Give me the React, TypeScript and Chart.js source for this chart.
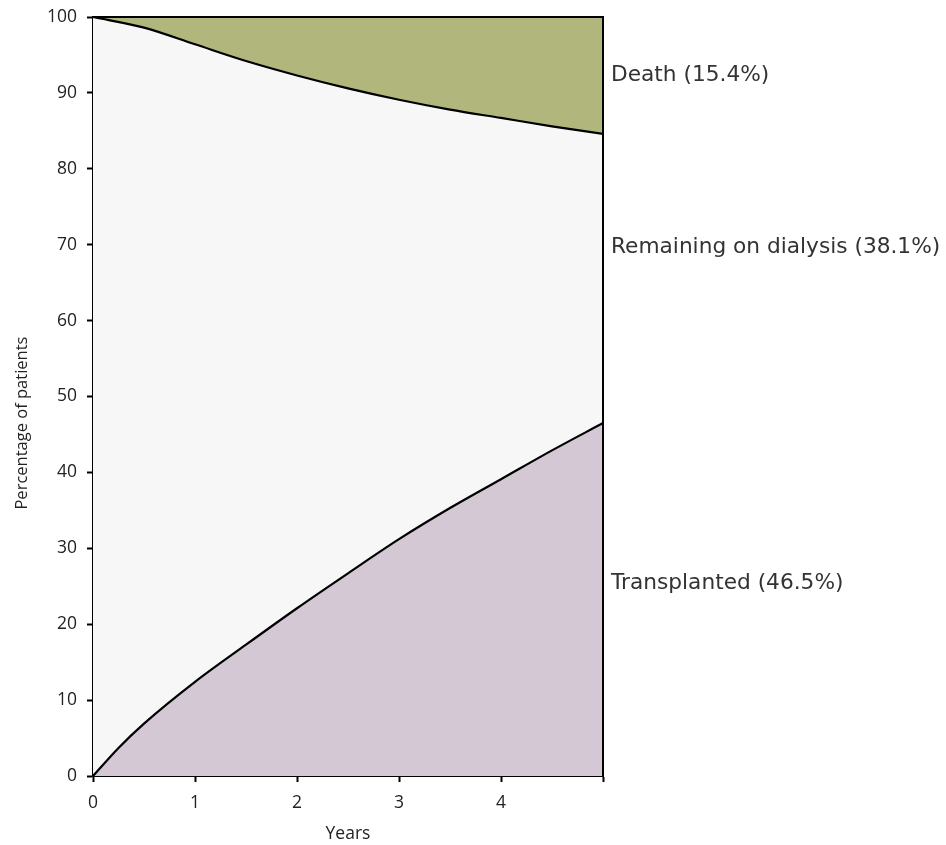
import React, { useEffect, useRef } from "react";
import { Chart, registerables } from "chart.js";

Chart.register(...registerables);

const years = [0, 0.25, 0.5, 1, 1.5, 2, 2.5, 3, 3.5, 4, 4.5, 5];
const transplanted = [0, 3.7, 6.9, 12.4, 17.3, 22.1, 26.7, 31.2, 35.3, 39.1, 42.9, 46.5];
const deathYears = [0, 0.5, 1, 1.5, 2, 2.5, 3, 3.5, 4, 4.5, 5];
const deathCum = [0, 1.4, 3.6, 5.8, 7.7, 9.4, 10.9, 12.2, 13.3, 14.4, 15.4];
const yTicks = [0, 10, 20, 30, 40, 50, 60, 70, 80, 90, 100];
const xTickLabels = ["0", "1", "2", "3", "4", ""];
const endLabels = ["Death (15.4%)", "Remaining on dialysis (38.1%)", "Transplanted (46.5%)"];
const endLabelValues = [92.3, 69.7, 25.4];
const yTitle = "Percentage of patients";
const xTitle = "Years";

const COLORS = {
  death: "#b1b67d",
  dialysis: "#f7f7f7",
  transplanted: "#d3c8d4",
};

const AXIS_FONT = '"Open Sans", "Liberation Sans", Arial';

export default function App() {
  const ref = useRef<HTMLCanvasElement | null>(null);
  useEffect(() => {
    if (!ref.current) return;
    const bgPlugin = {
      id: "bg",
      beforeDatasetsDraw(chart: any) {
        const { ctx, chartArea: a } = chart;
        ctx.save();
        ctx.fillStyle = COLORS.dialysis;
        ctx.fillRect(a.left, a.top, a.right - a.left, a.bottom - a.top);
        ctx.restore();
      },
      afterDraw(chart: any) {
        const { ctx, chartArea: a } = chart;
        const y = chart.scales.y;
        ctx.save();
        ctx.strokeStyle = "#000";
        ctx.lineWidth = 2;
        ctx.beginPath();
        ctx.moveTo(a.left, a.top);
        ctx.lineTo(a.right, a.top);
        ctx.lineTo(a.right, a.bottom);
        ctx.stroke();
        ctx.fillStyle = "#333";
        ctx.font = '21.7px "DejaVu Sans"';
        ctx.textBaseline = "middle";
        ctx.textAlign = "left";
        endLabels.forEach((t, i) => {
          ctx.fillText(t, a.right + 8, y.getPixelForValue(endLabelValues[i]));
        });
        // y-axis title (placed slightly below the plot's centre, as in the source)
        ctx.fillStyle = "#222";
        ctx.font = `16.5px ${AXIS_FONT}`;
        ctx.textAlign = "center";
        ctx.translate(22, y.getPixelForValue(46.5));
        ctx.rotate(-Math.PI / 2);
        ctx.fillText(yTitle, 0, 0);
        ctx.restore();
      },
    };
    const chart = new Chart(ref.current, {
      type: "line",
      data: {
        datasets: [
          {
            label: "Death",
            data: deathYears.map((x, i) => ({ x, y: 100 - deathCum[i] })),
            borderColor: "#000",
            borderWidth: 2.2,
            backgroundColor: COLORS.death,
            fill: "end",
            pointRadius: 0,
            cubicInterpolationMode: "monotone",
          },
          {
            label: "Transplanted",
            data: years.map((x, i) => ({ x, y: transplanted[i] })),
            borderColor: "#000",
            borderWidth: 2.2,
            backgroundColor: COLORS.transplanted,
            fill: "origin",
            pointRadius: 0,
            cubicInterpolationMode: "monotone",
          },
        ],
      },
      options: {
        responsive: false,
        animation: false,
        layout: { padding: { left: 0, right: 343, top: 17, bottom: 0 } },
        plugins: { legend: { display: false }, tooltip: { enabled: false } },
        scales: {
          x: {
            type: "linear",
            min: 0,
            max: 5,
            afterFit(s: any) { s.height = 69; s.paddingLeft = 0; s.paddingRight = 0; },
            afterBuildTicks(s: any) { s.ticks = [0, 1, 2, 3, 4, 5].map((v) => ({ value: v })); },
            ticks: {
              callback: (v: any) => xTickLabels[Math.round(v)] ?? "",
              color: "#222",
              font: { family: AXIS_FONT, size: 17.5 },
              padding: 11,
              maxRotation: 0,
            },
            grid: { drawOnChartArea: false, tickLength: 6, color: "#000", tickWidth: 2 },
            border: { display: true, color: "#000", width: 2 },
            title: {
              display: true,
              text: xTitle,
              color: "#222",
              font: { family: AXIS_FONT, size: 17.5 },
              padding: { top: 0, bottom: 0 },
            },
          },
          y: {
            min: 0,
            max: 100,
            afterFit(s: any) { s.width = 93; s.paddingTop = 0; s.paddingBottom = 0; },
            afterBuildTicks(s: any) { s.ticks = yTicks.map((v) => ({ value: v })); },
            ticks: {
              color: "#222",
              font: { family: AXIS_FONT, size: 17.5 },
              padding: 10,
            },
            grid: { drawOnChartArea: false, tickLength: 6, color: "#000", tickWidth: 2 },
            border: { display: true, color: "#000", width: 2 },
          },
        },
      },
      plugins: [bgPlugin],
    });
    return () => chart.destroy();
  }, []);
  return (
    <div style={{ position: "absolute", left: 0, top: 0, width: 946, height: 845, background: "#fff" }}>
      <canvas ref={ref} width={946} height={845} />
    </div>
  );
}
